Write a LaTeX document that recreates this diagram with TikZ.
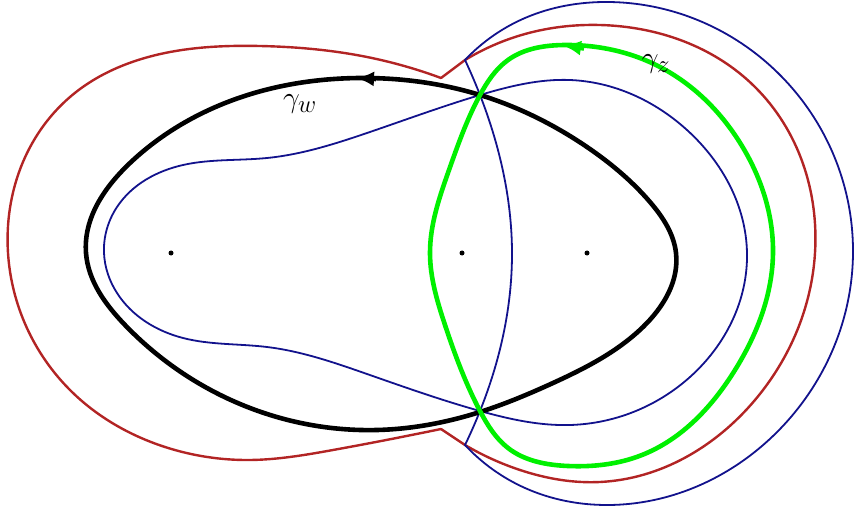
\documentclass[tikz,border=0pt]{standalone}
\usetikzlibrary{arrows.meta, hobby}

\definecolor{lvlred}{RGB}{178,36,36}
\definecolor{lvlblue}{RGB}{18,18,140}
\definecolor{loopgreen}{RGB}{0,240,0}

\begin{document}
\begin{tikzpicture}[
  x=1pt, y=-1pt,
  redlvl/.style={color=lvlred, line width=2.4pt, line join=round, line cap=round},
  bluelvl/.style={color=lvlblue, line width=1.8pt, line cap=round},
  wloop/.style={color=black, line width=4.6pt},
  zloop/.style={color=loopgreen, line width=4.6pt},
  tip/.style={-{Latex[length=18pt,width=15pt]}},
  pole/.style={circle, fill=black, inner sep=0pt, minimum size=5pt},
  lbl/.style={font=\Huge, scale=1.2, inner sep=0pt}
]
\useasboundingbox (0,0) rectangle (855,516);

%% ---------- red level line (two lobes, notch at the saddle) ----------
\draw[redlvl, use Hobby shortcut] (441,78) .. (367,57) .. (260,46)
  .. (165,53) .. (70,97) .. (8,253) .. (70,390) .. (165,447) .. (250,460)
  .. (333,450) .. (441,429);
\draw[redlvl, use Hobby shortcut] (465,445) .. (520,470) .. (600,482)
  .. (755,400) .. (815,253) .. (755,87) .. (600,25) .. (525,34) .. (465,60);
\draw[redlvl] (441,78) -- (465,60);
\draw[redlvl] (441,429) -- (465,445);

%% ---------- blue level lines ----------
\draw[bluelvl, use Hobby shortcut] (465,60) .. (525,18) .. (608,2)
  .. (781,76) .. (853,253) .. (781,428) .. (608,505) .. (525,488)
  .. (465,445);
\draw[bluelvl, use Hobby shortcut] (465,60) .. (480,95) .. (512,253)
  .. (480,411) .. (465,445);
\draw[bluelvl, use Hobby shortcut, closed=true] (480,95) .. (570,80)
  .. (687,130) .. (747,253) .. (690,377) .. (570,425) .. (480,411)
  .. (367,374) .. (267,347) .. (183,338) .. (117,293) .. (104,253)
  .. (117,207) .. (183,165) .. (267,158) .. (367,133);

%% ---------- poles ----------
\node[pole] (p1) at (171,253) {};
\node[pole] (p2) at (462,253) {};
\node[pole] (p3) at (587,253) {};

%% ---------- contour gamma_w ----------
\draw[wloop, use Hobby shortcut, closed=true] (480,95) .. (360,78)
  .. (233,100) .. (130,163) .. (86,253) .. (125,325) .. (250,408)
  .. (377,430) .. (480,412) .. (553,383) .. (643,327) .. (676,253)
  .. (650,202) .. (587,147);
\draw[wloop, tip] (376,79) -- (356,78);
\node[lbl] (gw) at (300,104) {$\gamma_w$};

%% ---------- contour gamma_z ----------
\draw[zloop, use Hobby shortcut, closed=true] (565,45) .. (660,67)
  .. (742,146) .. (773,253) .. (735,370) .. (642,455) .. (568,466)
  .. (508,448) .. (480,411) .. (445,325) .. (430,253) .. (449,170)
  .. (480,95) .. (508,60);
\draw[zloop, tip] (584,48.5) -- (563,45.5);
\node[lbl] (gz) at (656,64) {$\gamma_z$};
\end{tikzpicture}
\end{document}
